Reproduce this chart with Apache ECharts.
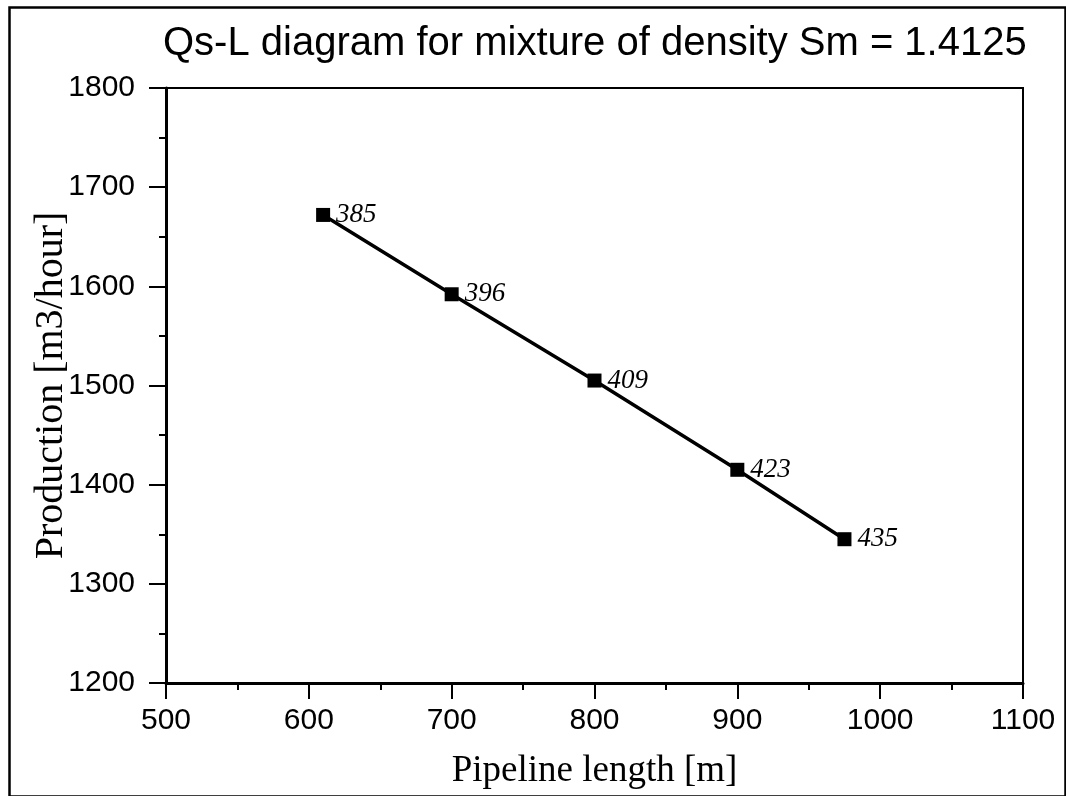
<!DOCTYPE html>
<html>
<head>
<meta charset="utf-8">
<script src="https://cdn.jsdelivr.net/npm/echarts@6/dist/echarts.min.js"></script>
<style>
  html, body { margin: 0; padding: 0; background: #fff; }
  #chart { width: 1066px; height: 796px; }
</style>
</head>
<body>
<div id="chart"></div>
<script>
// Pipeline length [m] and production [m3/hour] for Sm = 1.4125
const pipelineLength = [610, 700, 800, 900, 975];
const production = [1672, 1592, 1505, 1415, 1345];
const pointLabels = ['385', '396', '409', '423', '435'];

const xTicks = { min: 500, max: 1100, interval: 100 };
const yTicks = { min: 1200, max: 1800, interval: 100 };

const sans = '"Liberation Sans", Arial, sans-serif';
const serif = '"Liberation Serif", "Times New Roman", serif';

const chart = echarts.init(document.getElementById('chart'), null, { renderer: 'canvas' });

chart.setOption({
  backgroundColor: '#ffffff',
  animation: false,
  title: {
    text: 'Qs-L diagram for mixture of density Sm = 1.4125',
    left: 158,
    top: 19,
    textStyle: { fontFamily: sans, fontSize: 40, fontWeight: 'normal', color: '#000' }
  },
  graphic: [{
    type: 'rect',
    left: 7, top: 5,
    shape: { width: 1056, height: 789 },
    style: { fill: 'none', stroke: '#000', lineWidth: 2.5 },
    silent: true
  }],
  grid: {
    left: 166, top: 88, right: 43, bottom: 113,
    show: true, borderColor: '#000', borderWidth: 2, backgroundColor: 'transparent'
  },
  xAxis: {
    type: 'value',
    min: xTicks.min, max: xTicks.max, interval: xTicks.interval,
    name: 'Pipeline length [m]',
    nameLocation: 'middle',
    nameGap: 70,
    nameMoveOverlap: false,
    nameTextStyle: { fontFamily: serif, fontSize: 37, color: '#000', verticalAlign: 'top' },
    axisLine: { show: true, lineStyle: { color: '#000', width: 3 } },
    axisTick: { show: true, inside: false, length: 16, lineStyle: { color: '#000', width: 2 } },
    minorTick: { show: true, splitNumber: 2, length: 7, lineStyle: { color: '#000', width: 2 } },
    axisLabel: { fontFamily: sans, fontSize: 30, color: '#000', margin: 23, formatter: v => String(v) },
    splitLine: { show: false }
  },
  yAxis: {
    type: 'value',
    min: yTicks.min, max: yTicks.max, interval: yTicks.interval,
    name: 'Production [m3/hour]',
    nameLocation: 'middle',
    nameGap: 95,
    nameMoveOverlap: false,
    nameRotate: 90,
    nameTextStyle: { fontFamily: serif, fontSize: 40, color: '#000' },
    axisLine: { show: true, lineStyle: { color: '#000', width: 3 } },
    axisTick: { show: true, inside: false, length: 17, lineStyle: { color: '#000', width: 2 } },
    minorTick: { show: true, splitNumber: 2, length: 7, lineStyle: { color: '#000', width: 2 } },
    axisLabel: { fontFamily: sans, fontSize: 30, color: '#000', margin: 31, formatter: v => String(v) },
    splitLine: { show: false }
  },
  series: [{
    type: 'line',
    data: pipelineLength.map((x, i) => [x, production[i]]),
    symbol: 'rect',
    symbolSize: 14,
    lineStyle: { color: '#000', width: 3.5 },
    itemStyle: { color: '#000' },
    label: {
      show: true,
      position: 'right',
      distance: 6,
      formatter: p => pointLabels[p.dataIndex],
      fontFamily: serif,
      fontStyle: 'italic',
      fontSize: 27,
      color: '#000'
    },
    z: 3
  }]
});
</script>
</body>
</html>
